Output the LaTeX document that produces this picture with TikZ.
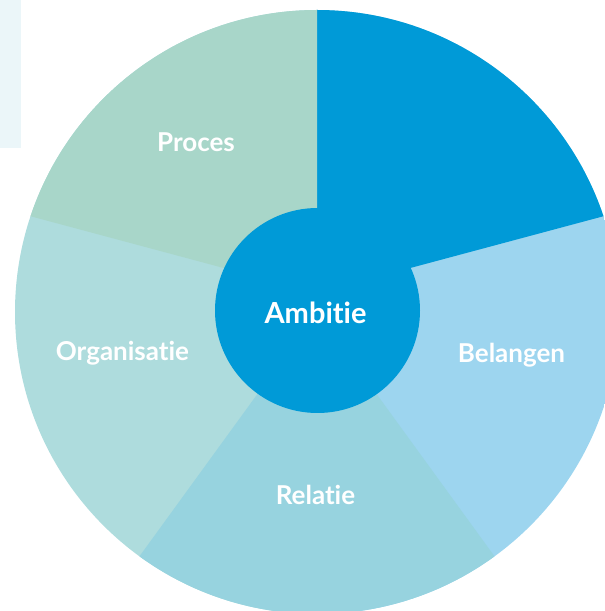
\documentclass[tikz,border=0pt]{standalone}
\usepackage{fontspec}
\setmainfont[Ligatures=NoCommon]{Lato}
\usepackage{tikz}
\usepackage{xcolor}
\usetikzlibrary{
    calc,
    positioning
}
\definecolor{ambblue}{HTML}{009AD7}
\definecolor{belblue}{HTML}{9DD5EF}
\definecolor{relblue}{HTML}{97D3DF}
\definecolor{orgblue}{HTML}{AEDCDD}
\definecolor{progreen}{HTML}{A8D6C9}
\definecolor{sidetint}{HTML}{EBF6F9}

\begin{document}
\begin{tikzpicture}[x=1pt, y=1pt,
    label/.style={text=white, font=\bfseries\fontsize{26}{26}\selectfont, anchor=base, inner sep=0pt}]
                        \useasboundingbox (0, 0) rectangle (605, 611);
                        \clip (0, 0) rectangle (605, 611);
                        \coordinate (c) at (317, 299);
                        \coordinate (top) at (317, 318);

                        \fill[sidetint] (0, 463) rectangle (21, 611);

                        \begin{scope}
                        \clip (c) circle[radius=302];
                        \fill[belblue] (317, -10) rectangle (620, 620);
                        \fill[orgblue] (-10, -10) rectangle (317, 620);
                        \fill[relblue] (c) -- ++(-126:700) arc[start angle=-126, end angle=-54, radius=700] -- cycle;
                        \fill[ambblue] (top) -- ++(15:700) arc[start angle=15, end angle=90, radius=700] -- cycle;
                        \fill[progreen] (top) -- ++(90:700) arc[start angle=90, end angle=165, radius=700] -- cycle;
                        \end{scope}

                        \node[circle, fill=ambblue, minimum size=205pt, inner sep=0pt] (core) at (317.5, 300.5) {};

                        \node[label] (proces) at (196, 459) {Proces};
                        \node[label] (belangen) at (511.5, 248.5) {Belangen};
                        \node[label] (relatie) at (315.5, 106) {Relatie};
                        \node[label] (organisatie) at (122.5, 250.5) {Organisatie};
                        \node[label, font=\bfseries\fontsize{29}{29}\selectfont] (ambitie) at (315.5, 287) {Ambitie};
                    \end{tikzpicture}
\end{document}
